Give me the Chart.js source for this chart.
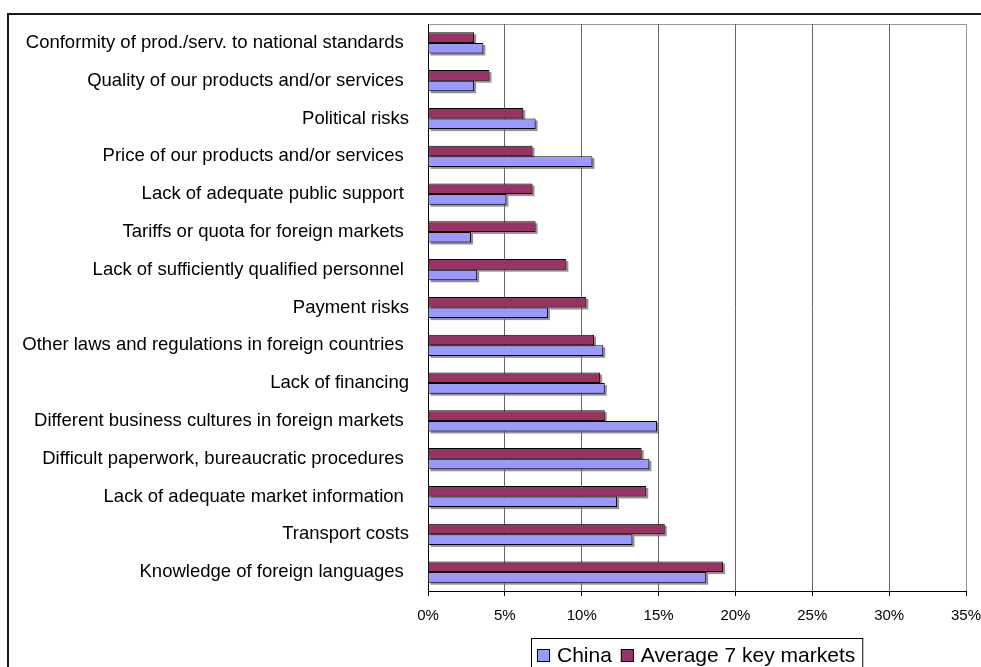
<!DOCTYPE html>
<html>
<head>
<meta charset="utf-8">
<script src="https://cdn.jsdelivr.net/npm/chart.js@4/dist/chart.umd.min.js"></script>
<style>
  html, body { margin: 0; padding: 0; background: #fff; overflow: hidden; }
  #wrap { position: absolute; left: 0; top: 0; width: 981px; height: 667px; }
</style>
</head>
<body>
<div id="wrap"><canvas id="barChart" width="981" height="667"></canvas></div>
<script>
// categories, top to bottom
const categories = [
  'Conformity of prod./serv. to national standards ',
  'Quality of our products and/or services ',
  'Political risks',
  'Price of our products and/or services ',
  'Lack of adequate public support ',
  'Tariffs or quota for foreign markets ',
  'Lack of sufficiently qualified personnel ',
  'Payment risks',
  'Other laws and regulations in foreign countries ',
  'Lack of financing',
  'Different business cultures in foreign markets ',
  'Difficult paperwork, bureaucratic procedures ',
  'Lack of adequate market information ',
  'Transport costs',
  'Knowledge of foreign languages '
];

// percent values
const avgKeyMarkets = [3.0, 4.0, 6.2, 6.8, 6.8, 7.0, 9.0, 10.3, 10.8, 11.2, 11.5, 13.9, 14.2, 15.4, 19.2];
const china = [3.6, 3.0, 7.0, 10.7, 5.1, 2.8, 3.2, 7.8, 11.4, 11.5, 14.9, 14.4, 12.3, 13.3, 18.1];

const xTicks = [0, 5, 10, 15, 20, 25, 30, 35];

const FONT = "'Liberation Sans', Arial, sans-serif";

// outer frame + plot area border
const framePlugin = {
  id: 'frame',
  beforeDraw(chart) {
    const ctx = chart.ctx;
    const a = chart.chartArea;
    ctx.save();
    ctx.fillStyle = '#fff';
    ctx.fillRect(0, 0, chart.width, chart.height);
    ctx.fillStyle = '#1a1a1a';
    ctx.fillRect(7, 13, chart.width, 2);
    ctx.fillRect(7, 13, 2, chart.height);
    ctx.strokeStyle = '#999';
    ctx.lineWidth = 1;
    ctx.strokeRect(a.left + 0.5, a.top + 0.5, a.right - a.left, a.bottom - a.top);
    ctx.restore();
  }
};

// grey drop shadow under every bar
const shadowPlugin = {
  id: 'barShadow',
  beforeDatasetsDraw(chart) {
    const ctx = chart.ctx;
    ctx.save();
    ctx.fillStyle = 'rgba(110,110,110,0.75)';
    chart.data.datasets.forEach((ds, i) => {
      chart.getDatasetMeta(i).data.forEach(bar => {
        const p = bar.getProps(['x', 'y', 'base', 'height'], true);
        ctx.fillRect(p.base + 2, p.y - p.height / 2 + 2, p.x - p.base, p.height);
      });
    });
    ctx.restore();
  }
};

// boxed legend under the chart, China first
const legendPlugin = {
  id: 'boxLegend',
  afterDraw(chart) {
    const ctx = chart.ctx;
    const a = chart.chartArea;
    const items = [chart.data.datasets[1], chart.data.datasets[0]];
    const sq = 13, padL = 6, padR = 7, gap = 7, between = 9;
    ctx.save();
    ctx.font = '21px ' + FONT;
    const widths = items.map(d => ctx.measureText(d.label).width);
    let total = padL + padR;
    items.forEach((d, i) => { total += sq + gap + widths[i] + (i ? 0 : between); });
    const left = Math.round((a.left + a.right) / 2 - total / 2);
    const top = 638;
    ctx.fillStyle = '#fff';
    ctx.fillRect(left, top, total, 40);
    ctx.strokeStyle = '#000';
    ctx.lineWidth = 1;
    ctx.strokeRect(left + 0.5, top + 0.5, total, 40);
    let x = left + padL;
    const cy = 655;
    items.forEach((d, i) => {
      ctx.fillStyle = d.backgroundColor;
      ctx.fillRect(x, cy - 6, sq, sq);
      ctx.strokeStyle = '#000';
      ctx.strokeRect(x + 0.5, cy - 5.5, sq - 1, sq - 1);
      x += sq + gap;
      ctx.fillStyle = '#000';
      ctx.textBaseline = 'middle';
      ctx.fillText(d.label, x, cy + 1);
      x += widths[i] + between;
    });
    ctx.restore();
  }
};

new Chart(document.getElementById('barChart'), {
  type: 'bar',
  data: {
    labels: categories,
    datasets: [
      {
        label: 'Average 7 key markets',
        data: avgKeyMarkets,
        backgroundColor: '#993366',
        borderColor: '#000',
        borderWidth: 1
      },
      {
        label: 'China',
        data: china,
        backgroundColor: '#9999FF',
        borderColor: '#000',
        borderWidth: 1
      }
    ]
  },
  options: {
    indexAxis: 'y',
    responsive: false,
    animation: false,
    categoryPercentage: 0.56,
    barPercentage: 1.0,
    layout: { padding: { top: 24, right: 15, left: 0, bottom: 31 } },
    plugins: {
      legend: { display: false },
      tooltip: { enabled: false }
    },
    scales: {
      x: {
        type: 'linear',
        min: 0,
        max: 35,
        afterBuildTicks: (scale) => { scale.ticks = xTicks.map(v => ({ value: v })); },
        ticks: {
          callback: (v) => v + '%',
          color: '#000',
          font: { family: FONT, size: 15 },
          padding: 11,
          maxRotation: 0
        },
        grid: {
          color: (c) => (c.tick && c.tick.value === 35 ? '#999' : '#666'),
          tickColor: '#000',
          tickLength: 5,
          lineWidth: 1
        },
        border: { color: '#000', width: 1 },
        afterFit: (scale) => {
          scale.height = 45;
          scale.paddingLeft = 0;
          scale.paddingRight = 0;
        }
      },
      y: {
        type: 'category',
        grid: { display: false, drawTicks: false },
        border: { color: '#000', width: 1 },
        ticks: {
          color: '#000',
          font: { family: FONT, size: 18.5 },
          padding: 19,
          autoSkip: false
        },
        afterFit: (scale) => {
          scale.width = 428;
          scale.paddingTop = 0;
          scale.paddingBottom = 0;
        }
      }
    }
  },
  plugins: [framePlugin, shadowPlugin, legendPlugin]
});
</script>
</body>
</html>
